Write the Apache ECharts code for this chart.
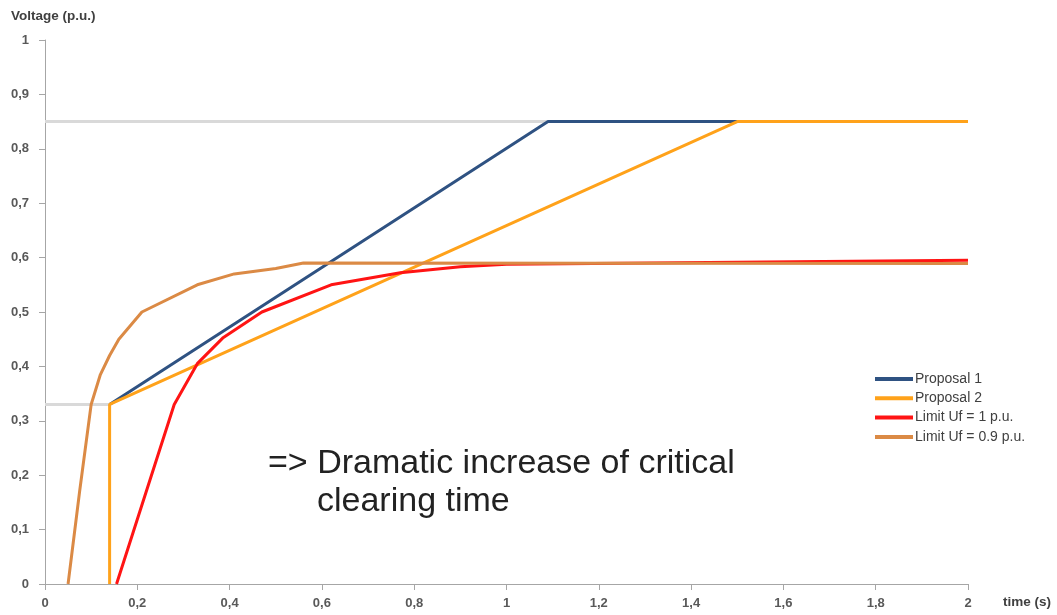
<!DOCTYPE html>
<html>
<head>
<meta charset="utf-8">
<script src="https://cdn.jsdelivr.net/npm/echarts@6/dist/echarts.min.js"></script>
<style>html,body{margin:0;padding:0;background:#fff}#c{width:1057px;height:615px}</style>
</head>
<body>
<div id="c"></div>
<script>
// Data (x = time in s, y = voltage in p.u.)
const proposal1 = [[0.14, 0.33], [1.09, 0.85], [1.5, 0.85]];
const proposal2 = [[0.14, 0], [0.14, 0.33], [1.5, 0.85], [2, 0.85]];
const limitUf1 = [[0.155, 0], [0.28, 0.33], [0.33, 0.405], [0.385, 0.452], [0.47, 0.5], [0.62, 0.55], [0.77, 0.572], [0.9, 0.583], [1.0, 0.588], [2, 0.595]];
const limitUf09 = [[0.05, 0], [0.075, 0.17], [0.1, 0.33], [0.12, 0.385], [0.14, 0.42], [0.16, 0.45], [0.21, 0.5], [0.33, 0.55], [0.41, 0.57], [0.5, 0.58], [0.56, 0.59], [2, 0.589]];
const refHigh = [[0, 0.85], [1.09, 0.85]];
const refLow = [[0, 0.33], [0.14, 0.33]];
const xTicks = [0, 0.2, 0.4, 0.6, 0.8, 1, 1.2, 1.4, 1.6, 1.8, 2];
const seriesNames = ['Proposal 1', 'Proposal 2', 'Limit Uf = 1 p.u.', 'Limit Uf = 0.9 p.u.'];
const colors = ['#2F5282', '#FFA21A', '#FF1414', '#DB8A45'];

const fmt = v => String(Math.round(v * 10) / 10).replace('.', ',');
const chart = echarts.init(document.getElementById('c'));
const font = 'Liberation Sans, Arial, sans-serif';
const mk = (name, data, color, w, z) => ({
  name, type: 'line', data, showSymbol: false, symbol: 'none', z,
  lineStyle: { color, width: w }, itemStyle: { color }, animation: false
});
chart.setOption({
  animation: false,
  grid: { left: 45, right: 89, top: 40, bottom: 31 },
  legend: {
    orient: 'vertical', left: 870, top: 366, icon: 'rect',
    itemWidth: 38, itemHeight: 4, itemGap: 3.3,
    data: seriesNames,
    textStyle: { fontFamily: font, fontSize: 14, color: '#404040', padding: [0, 0, 0, -3], lineHeight: 16 }
  },
  xAxis: {
    type: 'value', min: 0, max: 2, interval: 0.2,
    splitLine: { show: false },
    axisLine: { lineStyle: { color: '#A6A6A6', width: 1 } },
    axisTick: { show: true, length: 6, inside: false, lineStyle: { color: '#A6A6A6' } },
    axisLabel: { fontFamily: font, fontSize: 13, fontWeight: 'bold', color: '#595959', margin: 13, formatter: v => xTicks.some(t => Math.abs(t - v) < 1e-9) ? fmt(v) : '' }
  },
  yAxis: {
    type: 'value', min: 0, max: 1, interval: 0.1,
    splitLine: { show: false },
    axisLine: { show: true, lineStyle: { color: '#A6A6A6', width: 1 } },
    axisTick: { show: true, length: 6, inside: false, lineStyle: { color: '#A6A6A6' } },
    axisLabel: { fontFamily: font, fontSize: 13, fontWeight: 'bold', color: '#595959', margin: 16, formatter: fmt }
  },
  graphic: [
    { type: 'text', left: 11, top: 9, style: { text: 'Voltage (p.u.)', font: 'bold 13.5px ' + font, fill: '#404040' } },
    { type: 'text', left: 1003, top: 595, style: { text: 'time (s)', font: 'bold 13.5px ' + font, fill: '#404040' } },
    { type: 'text', left: 268, top: 447, style: { text: '=> Dramatic increase of critical', font: '34px ' + font, fill: '#222' } },
    { type: 'text', left: 317, top: 485, style: { text: 'clearing time', font: '34px ' + font, fill: '#222' } }
  ],
  series: [
    Object.assign(mk('ref1', refHigh, '#D9D9D9', 3, 1), { legendHoverLink: false }),
    Object.assign(mk('ref2', refLow, '#D9D9D9', 3, 1), { legendHoverLink: false }),
    mk(seriesNames[0], proposal1, colors[0], 3, 2),
    mk(seriesNames[1], proposal2, colors[1], 3, 3),
    mk(seriesNames[2], limitUf1, colors[2], 3, 4),
    mk(seriesNames[3], limitUf09, colors[3], 3, 5)
  ]
});
</script>
</body>
</html>
